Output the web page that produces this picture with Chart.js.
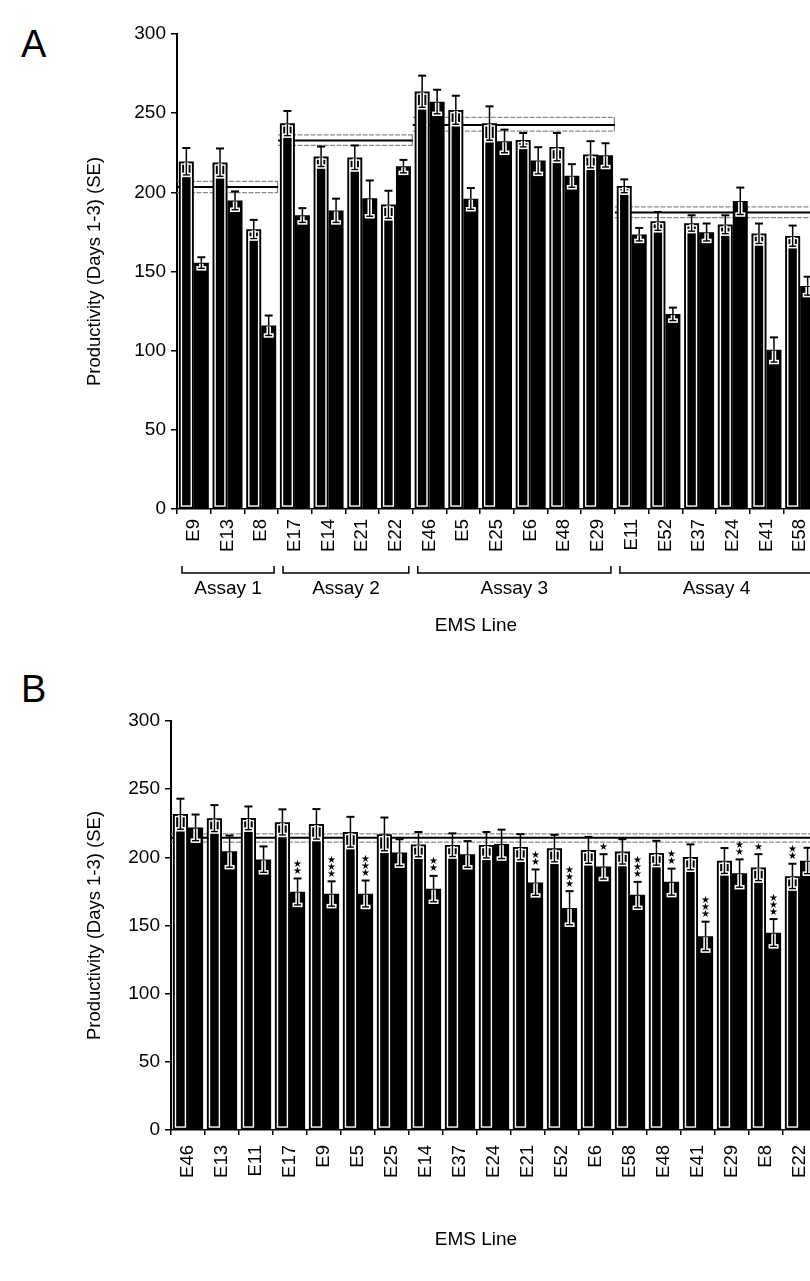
<!DOCTYPE html>
<html>
<head>
<meta charset="utf-8">
<script src="https://cdn.jsdelivr.net/npm/chart.js@4.4.1/dist/chart.umd.min.js"></script>
<style>
  html, body { margin: 0; padding: 0; background: #fff; width: 810px; height: 1281px; overflow: hidden; }
  body { position: relative; font-family: "Liberation Sans", Arial, Helvetica, sans-serif; }
  .panel-letter { position: absolute; font-size: 38px; line-height: 38px; color: #000; }
  canvas { position: absolute; left: 0; }
</style>
</head>
<body>
<div class="panel-letter" style="left:21px; top:25px;">A</div>
<div class="panel-letter" style="left:21px; top:670px;">B</div>
<canvas id="chartA" width="840" height="645" style="top:0px;"></canvas>
<canvas id="chartB" width="840" height="631" style="top:650px;"></canvas>

<script>
// ---------- Panel A: lines grouped by assay ----------
const linesA = ['E9','E13','E8','E17','E14','E21','E22','E46','E5','E25','E6','E48','E29','E11','E52','E37','E24','E41','E58'];
const firstA    = [219.5, 218.9, 176.7, 243.6, 222.6, 222.0, 192.3, 263.7, 252.0, 243.6, 233.1, 228.7, 223.9, 204.0, 181.8, 180.5, 179.7, 174.0, 172.5];
const firstSeA  = [8.5, 8.8, 5.9, 7.8, 6.3, 7.6, 8.7, 10.0, 9.0, 10.7, 4.4, 8.8, 8.4, 4.2, 5.8, 5.0, 5.8, 6.3, 6.5];
const secondA   = [155.5, 194.8, 115.9, 185.5, 188.5, 196.2, 216.4, 257.2, 196.0, 232.3, 220.1, 210.5, 223.5, 173.4, 123.1, 174.8, 194.5, 100.6, 140.9];
const secondSeA = [3.5, 5.8, 6.3, 4.5, 7.5, 11.3, 4.1, 7.6, 6.7, 7.3, 8.4, 7.3, 7.5, 4.1, 4.1, 5.5, 8.5, 7.8, 5.8];

const assayNames = ['Assay 1', 'Assay 2', 'Assay 3', 'Assay 4'];
const assayFirst = [0, 3, 7, 13];
const assayLast  = [2, 6, 12, 18];
const assayMean  = [203.3, 232.7, 242.6, 187.2];
const assayUpper = [206.9, 236.3, 247.4, 190.8];
const assayLower = [199.8, 229.6, 238.6, 184.0];

// ---------- Panel B: all lines, ranked ----------
const linesB = ['E46','E13','E11','E17','E9','E5','E25','E14','E37','E24','E21','E52','E6','E58','E48','E41','E29','E8','E22'];
const firstB    = [231.8, 228.6, 228.8, 225.8, 224.4, 218.6, 217.0, 209.5, 209.1, 209.1, 207.6, 206.6, 205.3, 204.2, 203.2, 200.2, 197.5, 192.6, 186.2];
const firstSeB  = [11.2, 9.7, 8.5, 9.4, 11.0, 11.1, 12.2, 9.1, 8.5, 9.5, 9.4, 9.9, 9.7, 9.1, 8.9, 9.3, 9.3, 9.7, 9.1];
const secondB   = [221.8, 204.4, 198.5, 174.8, 173.3, 173.3, 203.6, 176.9, 202.3, 209.7, 181.6, 162.9, 193.2, 172.5, 182.0, 142.2, 188.3, 144.7, 197.5];
const secondSeB = [9.6, 11.6, 9.5, 9.7, 9.1, 9.7, 9.7, 9.5, 9.6, 10.6, 9.5, 12.3, 9.1, 9.5, 9.7, 10.6, 10.2, 10.0, 9.5];
const starsFirstB  = [0,0,0,0,0,0,0,0,0,0,0,0,0,0,0,0,0,1,2];
const starsSecondB = [0,0,0,2,3,3,0,2,0,0,2,3,1,3,2,3,2,3,0];

const overallMeanB  = 214.4;
const overallUpperB = 217.2;
const overallLowerB = 211.2;

const yTicks = [0, 50, 100, 150, 200, 250, 300];

// ---------- shared drawing helpers ----------
Chart.defaults.font.family = '"Liberation Sans", Arial, Helvetica, sans-serif';
Chart.defaults.color = '#000';

function strokeLine(ctx, x0, y0, x1, y1) {
  ctx.beginPath(); ctx.moveTo(x0, y0); ctx.lineTo(x1, y1); ctx.stroke();
}

function categoryEdges(chart, first, last) {
  const xs = chart.scales.x;
  const half = (xs.getPixelForValue(1) - xs.getPixelForValue(0)) / 2;
  return [xs.getPixelForValue(first) - half, xs.getPixelForValue(last) + half];
}

// mean line with its confidence limits, drawn behind the bars
const referenceBands = {
  id: 'referenceBands',
  beforeDatasetsDraw(chart, args, opts) {
    const ctx = chart.ctx, ys = chart.scales.y;
    (opts.bands || []).forEach(b => {
      const [x0, x1] = categoryEdges(chart, b.first, b.last);
      const yU = ys.getPixelForValue(b.upper);
      const yM = ys.getPixelForValue(b.mean);
      const yL = ys.getPixelForValue(b.lower);
      ctx.save();
      ctx.strokeStyle = '#8a8a8a';
      ctx.lineWidth = 1.3;
      ctx.setLineDash([5, 1.5]);
      strokeLine(ctx, x0, yU, x1, yU);
      strokeLine(ctx, x0, yL, x1, yL);
      ctx.setLineDash([]);
      strokeLine(ctx, x1 - 0.5, yU, x1 - 0.5, yL);
      ctx.strokeStyle = '#000';
      ctx.lineWidth = 2;
      strokeLine(ctx, x0, yM, x1, yM);
      ctx.restore();
    });
  }
};

// inner outline of the first bar, SE whiskers and significance stars
const barMarks = {
  id: 'barMarks',
  afterDatasetsDraw(chart) {
    const ctx = chart.ctx, ys = chart.scales.y;
    chart.data.datasets.forEach((ds, di) => {
      const meta = chart.getDatasetMeta(di);
      meta.data.forEach((bar, i) => {
        const p = bar.getProps(['x', 'y', 'base', 'width'], true);
        const left = p.x - p.width / 2;
        ctx.save();
        if (di === 0) {
          ctx.strokeStyle = '#fff';
          ctx.lineWidth = 1.4;
          ctx.strokeRect(left + 2.6, p.y + 2.6, p.width - 5.2, p.base - p.y - 4.8);
        }
        const v = ds.data[i], se = ds.errors[i];
        const yHi = ys.getPixelForValue(v + se);
        const yLo = ys.getPixelForValue(v - se);
        ctx.lineCap = 'butt';
        // lower whisker inside the bar, haloed in white
        ctx.strokeStyle = '#fff';
        ctx.lineWidth = 4.5;
        strokeLine(ctx, p.x, p.y + 1, p.x, yLo);
        strokeLine(ctx, p.x - 5, yLo, p.x + 5, yLo);
        ctx.strokeStyle = '#000';
        ctx.lineWidth = 1.4;
        strokeLine(ctx, p.x, p.y + 1, p.x, yLo);
        strokeLine(ctx, p.x - 3.5, yLo, p.x + 3.5, yLo);
        // upper whisker
        ctx.lineWidth = 1.5;
        strokeLine(ctx, p.x, p.y, p.x, yHi);
        ctx.lineWidth = 2;
        strokeLine(ctx, p.x - 4, yHi, p.x + 4, yHi);
        // stars
        const n = ds.stars ? ds.stars[i] : 0;
        ctx.fillStyle = '#000';
        ctx.font = '10px "DejaVu Sans"';
        ctx.textAlign = 'center';
        ctx.textBaseline = 'middle';
        for (let k = 0; k < n; k++) {
          ctx.fillText('\u2605', p.x, yHi - 7 - k * 7);
        }
        ctx.restore();
      });
    });
  }
};

// assay brackets under the tick labels
const assayBrackets = {
  id: 'assayBrackets',
  afterDraw(chart, args, opts) {
    if (!opts.groups) return;
    const ctx = chart.ctx;
    const yb = chart.chartArea.bottom + opts.offset;
    ctx.save();
    ctx.strokeStyle = '#000';
    ctx.lineWidth = 1.5;
    ctx.fillStyle = '#000';
    ctx.font = '19px "Liberation Sans", Arial, sans-serif';
    ctx.textAlign = 'center';
    ctx.textBaseline = 'middle';
    opts.groups.forEach(g => {
      let [x0, x1] = categoryEdges(chart, g.first, g.last);
      x0 += 5; x1 -= 4;
      ctx.beginPath();
      ctx.moveTo(x0, yb - 7); ctx.lineTo(x0, yb); ctx.lineTo(x1, yb); ctx.lineTo(x1, yb - 7);
      ctx.stroke();
      ctx.fillText(g.name, (x0 + x1) / 2, yb + opts.labelGap);
    });
    ctx.restore();
  }
};

// horizontal axis title
const axisCaption = {
  id: 'axisCaption',
  afterDraw(chart, args, opts) {
    const ctx = chart.ctx;
    ctx.save();
    ctx.fillStyle = '#000';
    ctx.font = '19px "Liberation Sans", Arial, sans-serif';
    ctx.textAlign = 'center';
    ctx.textBaseline = 'middle';
    ctx.fillText(opts.text, opts.x, chart.chartArea.bottom + opts.offset);
    ctx.restore();
  }
};

function buildChart(id, cfg) {
  return new Chart(document.getElementById(id), {
    type: 'bar',
    data: {
      labels: cfg.labels,
      datasets: [
        { data: cfg.first, errors: cfg.firstSe, stars: cfg.firstStars, backgroundColor: '#000', borderWidth: 0 },
        { data: cfg.second, errors: cfg.secondSe, stars: cfg.secondStars, backgroundColor: '#000', borderWidth: 0 }
      ]
    },
    plugins: [referenceBands, barMarks, assayBrackets, axisCaption],
    options: {
      responsive: false,
      animation: false,
      events: [],
      layout: { padding: { top: cfg.top, right: 23, left: 0, bottom: 0 } },
      datasets: { bar: { categoryPercentage: 0.89, barPercentage: 1.0 } },
      plugins: {
        legend: { display: false },
        tooltip: { enabled: false },
        referenceBands: { bands: cfg.bands },
        assayBrackets: cfg.brackets || {},
        axisCaption: { text: 'EMS Line', x: 476, offset: cfg.captionOffset }
      },
      scales: {
        x: {
          type: 'category',
          offset: true,
          grid: { offset: true, drawOnChartArea: false, drawTicks: true, tickLength: 5, color: '#000', lineWidth: 1.5 },
          border: { display: true, color: '#000', width: 1.5 },
          ticks: { autoSkip: false, minRotation: 90, maxRotation: 90, padding: cfg.xPad, color: '#000',
                   font: { size: 18.5 } },
          afterFit(s) { s.height = cfg.xHeight; }
        },
        y: {
          min: 0, max: 300,
          afterBuildTicks(s) { s.ticks = yTicks.map(v => ({ value: v })); },
          grid: { drawOnChartArea: false, drawTicks: true, tickLength: 6, color: '#000', lineWidth: 1.5 },
          border: { display: true, color: '#000', width: 2 },
          ticks: { padding: 5, color: '#000', font: { size: 19 } },
          title: { display: true, text: 'Productivity (Days 1-3) (SE)', color: '#000',
                   font: { size: 18.5 }, padding: { top: 84, bottom: 0 } },
          afterFit(s) { s.width = cfg.yWidth; }
        }
      }
    }
  });
}

buildChart('chartA', {
  labels: linesA,
  first: firstA, firstSe: firstSeA, firstStars: null,
  second: secondA, secondSe: secondSeA, secondStars: null,
  top: 34, yWidth: 177, xHeight: 136, xPad: 5, captionOffset: 117,
  bands: assayNames.map((n, i) => ({ first: assayFirst[i], last: assayLast[i],
    mean: assayMean[i], upper: assayUpper[i], lower: assayLower[i] })),
  brackets: { offset: 64, labelGap: 16,
    groups: assayNames.map((n, i) => ({ name: n, first: assayFirst[i], last: assayLast[i] })) }
});

buildChart('chartB', {
  labels: linesB,
  first: firstB, firstSe: firstSeB, firstStars: starsFirstB,
  second: secondB, secondSe: secondSeB, secondStars: starsSecondB,
  top: 71, yWidth: 171, xHeight: 151, xPad: 10, captionOffset: 110,
  bands: [{ first: 0, last: linesB.length - 1, mean: overallMeanB, upper: overallUpperB, lower: overallLowerB }]
});
</script>
</body>
</html>
